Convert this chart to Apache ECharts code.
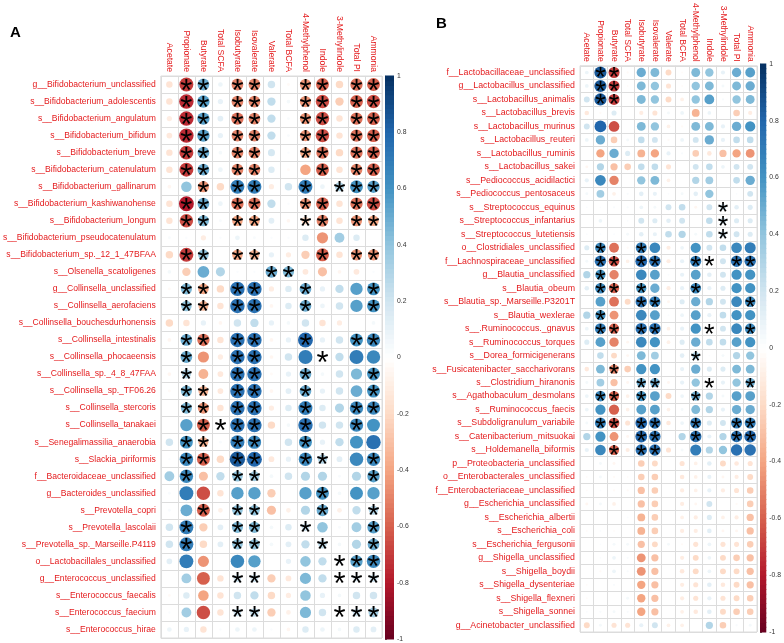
<!DOCTYPE html>
<html><head><meta charset="utf-8">
<script src="https://cdn.jsdelivr.net/npm/echarts@6/dist/echarts.min.js"></script>
<style>html,body{margin:0;padding:0;background:#fff}#c{width:784px;height:643px}</style>
</head><body><div id="c"></div>
<script>
// ---------- DATA ----------
const metabolites = ['Acetate','Propionate','Butyrate','Total SCFA','Isobutyrate','Isovalerate','Valerate','Total BCFA','4-Methylphenol','Indole','3-Methylindole','Total PI','Ammonia'];

const rowsA = ['g__Bifidobacterium_unclassified','s__Bifidobacterium_adolescentis','s__Bifidobacterium_angulatum','s__Bifidobacterium_bifidum','s__Bifidobacterium_breve','s__Bifidobacterium_catenulatum','s__Bifidobacterium_gallinarum','s__Bifidobacterium_kashiwanohense','s__Bifidobacterium_longum','s__Bifidobacterium_pseudocatenulatum','s__Bifidobacterium_sp._12_1_47BFAA','s__Olsenella_scatoligenes','g__Collinsella_unclassified','s__Collinsella_aerofaciens','s__Collinsella_bouchesdurhonensis','s__Collinsella_intestinalis','s__Collinsella_phocaeensis','s__Collinsella_sp._4_8_47FAA','s__Collinsella_sp._TF06.26','s__Collinsella_stercoris','s__Collinsella_tanakaei','s__Senegalimassilia_anaerobia','s__Slackia_piriformis','f__Bacteroidaceae_unclassified','g__Bacteroides_unclassified','s__Prevotella_copri','s__Prevotella_lascolaii','s__Prevotella_sp._Marseille.P4119','o__Lactobacillales_unclassified','g__Enterococcus_unclassified','s__Enterococcus_faecalis','s__Enterococcus_faecium','s__Enterococcus_hirae'];

const valuesA = [
[-0.15,-0.7,0.5,0.08,-0.5,-0.5,0.2,-0.03,-0.45,-0.6,-0.2,-0.55,-0.6],
[-0.15,-0.75,0.55,0.1,-0.5,-0.5,0.25,0.05,-0.45,-0.65,-0.25,-0.6,-0.65],
[-0.1,-0.75,0.55,0.12,-0.55,-0.5,0.25,0.03,-0.45,-0.65,-0.15,-0.55,-0.6],
[-0.12,-0.75,0.55,0.1,-0.5,-0.5,0.25,0.03,-0.45,-0.65,-0.15,-0.55,-0.6],
[-0.15,-0.7,0.5,0.05,-0.5,-0.5,0.18,0.02,-0.4,-0.55,-0.2,-0.55,-0.6],
[-0.15,-0.7,0.5,0.08,-0.5,-0.5,0.15,-0.03,-0.4,-0.6,-0.15,-0.5,-0.6],
[-0.05,0.4,-0.45,-0.2,0.7,0.7,-0.1,0.2,0.7,0.08,0.3,0.6,0.55],
[-0.15,-0.8,0.5,0.08,-0.55,-0.55,0.25,0.02,-0.45,-0.6,-0.15,-0.55,-0.65],
[-0.15,-0.65,0.45,0.03,-0.4,-0.4,0.12,-0.05,-0.2,-0.5,-0.15,-0.45,-0.4],
[0.03,0.02,-0.1,0.02,0.08,0.03,0.02,0.02,0.15,-0.45,0.35,0.15,0.0],
[-0.2,-0.7,0.4,0.0,-0.4,-0.35,0.1,-0.1,-0.25,-0.6,-0.15,-0.45,-0.45],
[0.05,-0.25,0.5,0.3,0.02,0.02,0.5,0.45,-0.12,-0.3,-0.05,-0.12,0.02],
[-0.03,0.45,-0.4,-0.2,0.75,0.75,-0.1,0.15,0.5,0.1,0.25,0.55,0.6],
[0.0,0.4,-0.35,-0.15,0.75,0.75,-0.05,0.15,0.5,0.08,0.2,0.55,0.6],
[-0.2,-0.15,0.1,-0.05,0.2,0.25,0.1,0.05,0.2,-0.15,-0.1,0.0,0.05],
[-0.05,0.5,-0.55,-0.15,0.75,0.75,-0.05,0.1,0.8,0.1,0.2,0.6,0.65],
[0.0,0.5,-0.45,-0.1,0.75,0.75,-0.05,0.2,0.7,0.03,0.25,0.7,0.65],
[-0.05,0.3,-0.35,-0.12,0.75,0.75,-0.03,0.1,0.5,0.05,0.2,0.45,0.6],
[-0.03,0.45,-0.35,-0.12,0.75,0.75,-0.05,0.12,0.5,0.1,0.2,0.5,0.6],
[0.0,0.45,-0.45,-0.15,0.75,0.75,-0.1,0.15,0.7,0.15,0.3,0.65,0.65],
[0.0,0.55,-0.6,0.0,0.75,0.75,-0.2,0.05,0.75,0.2,0.2,0.65,0.6],
[0.2,0.6,-0.35,0.03,0.7,0.65,0.0,0.2,0.6,0.1,0.25,0.6,0.75],
[0.02,0.65,-0.6,-0.2,0.85,0.8,-0.12,0.1,0.65,0.3,0.12,0.65,0.65],
[0.35,0.65,-0.3,0.25,0.4,0.35,0.05,0.2,0.3,0.3,0.03,0.3,0.55],
[0.03,0.7,-0.65,-0.15,0.55,0.55,-0.25,0.0,0.55,0.6,0.05,0.6,0.55],
[0.03,0.5,-0.6,-0.08,0.4,0.4,-0.3,-0.08,0.3,0.5,-0.08,0.25,0.3],
[0.2,0.7,-0.25,0.12,0.45,0.45,0.05,0.15,0.2,0.4,0.03,0.35,0.55],
[0.2,0.7,-0.2,0.12,0.4,0.4,0.05,0.12,0.25,0.25,0.05,0.3,0.5],
[0.12,0.7,-0.45,0.0,0.65,0.55,0.0,0.1,0.4,0.25,0.1,0.55,0.65],
[0.0,0.35,-0.6,-0.15,0.2,0.2,-0.25,-0.12,0.45,0.25,0.0,0.15,0.2],
[-0.03,0.15,-0.4,-0.15,0.2,0.25,-0.2,-0.1,0.4,0.1,0.05,0.2,0.2],
[0.02,0.35,-0.65,-0.15,0.2,0.25,-0.25,-0.08,0.45,0.2,0.0,0.2,0.35],
[0.08,0.1,-0.15,0.02,0.08,0.08,0.02,-0.05,0.15,0.08,0.05,0.15,0.12]
];

// 1 = significant (asterisk), one character per metabolite column
const sigA = ['0110110011011','0110110011011','0110110011011','0110110011011','0110110011011','0110110001011','0010110010111','0110110011011','0110110011011','0000000000000','0110110001011','0000001100000','0110110010001','0110110010001','0000000000000','0110110010011','0100110001000','0100110010001','0110110010001','0110110010011','0011110010010','0110110010000','0110110011001','0100110000001','0000000001000','0010110001001','0100110010001','0100110001001','0000000000111','0000110000111','0000000000000','0000110000111','0000000000000'];

const rowsB = ['f__Lactobacillaceae_unclassified','g__Lactobacillus_unclassified','s__Lactobacillus_animalis','s__Lactobacillus_brevis','s__Lactobacillus_murinus','s__Lactobacillus_reuteri','s__Lactobacillus_ruminis','s__Lactobacillus_sakei','s__Pediococcus_acidilactici','s__Pediococcus_pentosaceus','s__Streptococcus_equinus','s__Streptococcus_infantarius','s__Streptococcus_lutetiensis','o__Clostridiales_unclassified','f__Lachnospiraceae_unclassified','g__Blautia_unclassified','s__Blautia_obeum','s__Blautia_sp._Marseille.P3201T','s__Blautia_wexlerae','s__.Ruminococcus._gnavus','s__Ruminococcus_torques','s__Dorea_formicigenerans','s__Fusicatenibacter_saccharivorans','s__Clostridium_hiranonis','s__Agathobaculum_desmolans','s__Ruminococcus_faecis','s__Subdoligranulum_variabile','s__Catenibacterium_mitsuokai','s__Holdemanella_biformis','p__Proteobacteria_unclassified','o__Enterobacterales_unclassified','f__Enterobacteriaceae_unclassified','g__Escherichia_unclassified','s__Escherichia_albertii','s__Escherichia_coli','s__Escherichia_fergusonii','g__Shigella_unclassified','s__Shigella_boydii','s__Shigella_dysenteriae','s__Shigella_flexneri','s__Shigella_sonnei','g__Acinetobacter_unclassified'];

const valuesB = [
[0.08,0.85,-0.7,-0.03,0.5,0.45,-0.2,-0.02,0.45,0.4,0.1,0.5,0.55],
[0.08,0.85,-0.7,-0.02,0.45,0.4,-0.15,-0.02,0.4,0.45,0.05,0.45,0.5],
[0.2,0.85,-0.7,0.0,0.45,0.4,-0.2,-0.08,0.4,0.55,0.03,0.4,0.45],
[-0.12,-0.03,0.15,0.0,-0.1,-0.15,0.05,0.08,-0.35,0.08,0.0,-0.25,-0.1],
[0.2,0.8,-0.65,0.0,0.45,0.4,-0.08,-0.03,0.45,0.45,0.1,0.5,0.6],
[0.08,0.5,-0.25,0.05,0.25,0.2,-0.03,0.08,0.2,0.5,0.1,0.25,0.25],
[0.0,-0.4,0.5,0.15,-0.35,-0.4,0.1,0.03,-0.25,-0.12,-0.3,-0.4,-0.45],
[-0.05,0.3,-0.3,-0.25,0.25,0.25,-0.15,0.0,0.2,0.25,0.08,0.2,0.2],
[0.1,0.65,-0.5,0.0,0.4,0.45,-0.08,0.0,0.3,0.35,0.0,0.25,0.5],
[0.05,0.35,-0.08,0.03,0.12,0.1,0.02,0.05,0.12,0.4,0.0,0.02,0.2],
[0.02,0.02,0.03,0.03,0.08,0.05,0.2,0.25,-0.05,0.2,0.2,0.12,0.15],
[0.0,0.08,0.0,0.02,0.2,0.15,0.12,0.2,0.0,0.25,0.2,0.15,0.15],
[0.02,0.02,0.02,0.05,0.12,0.1,0.25,0.3,0.05,0.25,0.2,0.2,0.15],
[0.15,0.65,-0.55,-0.03,0.7,0.65,-0.1,0.08,0.6,0.2,0.25,0.65,0.7],
[0.05,0.75,-0.65,-0.08,0.8,0.75,-0.1,0.1,0.7,0.1,0.2,0.75,0.75],
[0.3,0.6,-0.5,0.0,0.65,0.55,0.02,0.1,0.55,0.12,0.2,0.6,0.6],
[0.12,0.65,-0.6,0.0,0.6,0.5,-0.1,0.1,0.65,0.1,0.15,0.6,0.6],
[0.0,0.55,-0.55,-0.2,0.75,0.7,-0.05,0.15,0.5,0.3,0.2,0.65,0.65],
[0.3,0.6,-0.45,0.0,0.65,0.55,0.02,0.08,0.55,0.1,0.25,0.6,0.6],
[0.08,0.7,-0.6,0.0,0.75,0.75,-0.08,0.1,0.6,0.08,0.2,0.65,0.65],
[0.15,0.55,-0.5,-0.05,0.65,0.6,-0.08,0.15,0.5,0.25,0.25,0.55,0.6],
[0.0,0.25,-0.2,-0.05,0.45,0.35,0.0,0.12,0.3,0.02,0.05,0.3,0.4],
[-0.12,0.45,-0.5,-0.25,0.6,0.6,0.0,0.1,0.5,0.15,0.15,0.45,0.45],
[0.05,0.35,-0.3,-0.05,0.5,0.5,-0.05,0.1,0.4,0.05,0.1,0.4,0.5],
[0.08,0.65,-0.6,-0.08,0.6,0.55,-0.2,0.08,0.5,0.3,0.05,0.55,0.55],
[0.08,0.6,-0.6,-0.08,0.55,0.55,-0.08,0.05,0.45,0.3,0.1,0.5,0.5],
[0.05,0.7,-0.65,-0.15,0.8,0.75,-0.12,0.08,0.7,0.15,0.2,0.7,0.7],
[0.3,0.6,-0.45,-0.05,0.8,0.75,0.0,0.3,0.75,0.1,0.3,0.75,0.8],
[0.1,0.65,-0.6,-0.1,0.75,0.75,-0.15,0.05,0.7,0.3,0.4,0.75,0.75],
[0.0,0.05,-0.05,0.0,-0.25,-0.2,0.0,-0.15,-0.08,0.12,-0.2,-0.12,-0.15],
[-0.02,0.05,-0.03,-0.02,-0.25,-0.25,0.0,-0.12,-0.08,0.1,-0.05,-0.1,-0.2],
[-0.02,0.02,-0.03,-0.03,-0.3,-0.25,0.0,-0.1,-0.08,0.1,-0.1,-0.15,-0.25],
[-0.05,0.05,-0.08,0.0,-0.3,-0.25,0.0,-0.1,-0.05,0.2,0.0,-0.03,-0.25],
[0.0,0.0,0.0,0.02,-0.35,-0.25,0.0,-0.08,-0.1,0.15,-0.08,-0.1,-0.3],
[-0.02,0.02,-0.02,0.0,-0.35,-0.25,0.0,-0.1,-0.1,0.12,-0.05,-0.05,-0.3],
[0.0,0.02,0.05,0.05,-0.3,-0.2,0.05,-0.03,-0.15,0.08,-0.15,-0.15,-0.25],
[0.0,0.02,0.08,0.03,-0.45,-0.3,0.0,-0.1,-0.2,0.08,-0.2,-0.25,-0.3],
[0.0,-0.03,0.08,0.03,-0.45,-0.3,0.0,-0.12,-0.2,0.08,-0.2,-0.2,-0.3],
[-0.02,0.0,0.03,0.0,-0.4,-0.3,0.0,-0.1,-0.15,0.12,-0.12,-0.2,-0.3],
[-0.02,0.0,0.0,0.05,-0.4,-0.3,0.0,-0.1,-0.15,0.1,-0.15,-0.2,-0.25],
[0.02,0.03,0.05,0.03,-0.4,-0.3,0.0,-0.08,-0.12,0.12,-0.2,-0.25,-0.25],
[-0.2,0.05,-0.15,-0.15,0.1,0.2,-0.08,-0.08,0.0,0.3,-0.25,0.03,0.05]
];

const sigB = ['0110000000000','0110000000000','0110000000000','0000000000000','0000000000000','0000000000000','0000000000000','0000000000000','0000000000000','0000000000000','0000000000100','0000000000100','0000000000100','0100100000000','0110110011011','0100000000000','0110100010000','0000110000001','0100000000000','0110110001001','0000000000000','0000000010000','0010000000000','0000110001001','0110100010000','0000000000000','0110110010011','0000110010011','0010110000000','0000000000000','0000000000000','0000000000000','0000000000000','0000000000000','0000000000000','0000000000000','0000000000000','0000000000000','0000000000000','0000000000000','0000000000000','0000000000000'];

const panelLetters = ['A','B'];
const colorbarMin = -1, colorbarMax = 1, colorbarStep = 0.2;

// ---------- STYLE ----------
const PALETTE = ['#67001F','#B2182B','#D6604D','#F4A582','#FDDBC7','#FFFFFF','#D1E5F0','#92C5DE','#4393C3','#2166AC','#053061'];
function hex2rgb(h){return [parseInt(h.slice(1,3),16),parseInt(h.slice(3,5),16),parseInt(h.slice(5,7),16)];}
const PAL_RGB = PALETTE.map(hex2rgb);
function corrColor(v){
  let t = (Math.max(-1,Math.min(1,v)) + 1) / 2 * (PALETTE.length - 1);
  let i = Math.min(PALETTE.length - 2, Math.floor(t)); let f = t - i;
  const a = PAL_RGB[i], b = PAL_RGB[i+1];
  return 'rgb(' + [0,1,2].map(k => Math.round(a[k] + (b[k]-a[k])*f)).join(',') + ')';
}
function fontAvailable(name){
  const c = document.createElement('canvas').getContext('2d');
  const s = 'abcdefghijklmnopqrstuvwxyz_ABC';
  c.font = '20px monospace'; const w1 = c.measureText(s).width;
  c.font = "20px '" + name + "', monospace"; const w2 = c.measureText(s).width;
  return w1 !== w2;
}
const NARROW = fontAvailable('Liberation Sans Narrow');
const LABEL_FONT = NARROW ? "'Liberation Sans Narrow'" : "'Liberation Sans', Arial, sans-serif";
const FS_ROW_A = NARROW ? 10.4 : 8.6;
const FS_ROW_B = NARROW ? 10.6 : 8.8;
const FS_COL = NARROW ? 10.4 : 8.6;
const FS_CB = NARROW ? 8 : 6.8;
const RED = '#e41a1c';
const GRIDC = '#dcdcdc';

const P = {
  A: {left:160, top:76, width:222, height:562, cb:{left:385, top:76, width:9, height:563}, star:31},
  B: {left:580, top:64, width:177, height:568, cb:{left:760, top:64, width:7, height:568}, star:27}
};

function cellData(vals, sig){
  const out = [];
  vals.forEach((row, r) => row.forEach((v, c) => out.push([c, r, v, sig[r][c] === '1' ? 1 : 0])));
  return out;
}
function renderCell(starSize){
  return function(params, api){
    const c = api.value(0), r = api.value(1), v = api.value(2), s = api.value(3);
    const p = api.coord([c, r]);
    const sz = api.size([1, 1]);
    const cell = Math.min(sz[0], sz[1]);
    const rad = 0.49 * cell * Math.sqrt(Math.abs(v));
    const children = [];
    if (rad > 0.2) children.push({type:'circle', shape:{cx:p[0], cy:p[1], r:rad}, style:{fill:corrColor(v)}});
    if (s) children.push({type:'text', style:{text:'*', x:p[0], y:p[1] + starSize*0.24, fill:'#000',
      fontSize:starSize, fontFamily:"'Liberation Sans', Arial", align:'center', verticalAlign:'middle'}});
    return {type:'group', children};
  };
}
const cbBins = [];
(function(){ const N = 120; for (let i = 0; i < N; i++){ cbBins.push([colorbarMin + (colorbarMax-colorbarMin)*i/N, colorbarMin + (colorbarMax-colorbarMin)*(i+1)/N]); } })();
function renderCB(params, api){
  const v0 = api.value(0), v1 = api.value(1);
  const p0 = api.coord([0, v0]), p1 = api.coord([1, v1]);
  return {type:'rect', shape:{x:p0[0], y:p1[1]-0.5, width:p1[0]-p0[0], height:p0[1]-p1[1]+1}, style:{fill:corrColor((v0+v1)/2)}};
}

const grids = [], xAxes = [], yAxes = [], series = [];
[['A', rowsA, valuesA, sigA, FS_ROW_A], ['B', rowsB, valuesB, sigB, FS_ROW_B]].forEach(([key, rows, vals, sig, fsRow]) => {
  const L = P[key];
  const gi = grids.length;
  grids.push({left:L.left, top:L.top, width:L.width, height:L.height, show:true, borderColor:GRIDC, borderWidth:1, containLabel:false});
  xAxes.push({gridIndex:gi, type:'category', data:metabolites, position:'top',
    axisLine:{show:false}, axisTick:{show:false},
    axisLabel:{interval:0, rotate:90, color:RED, fontSize:FS_COL, fontFamily:LABEL_FONT, margin:4},
    splitLine:{show:true, interval:0, lineStyle:{color:GRIDC, width:1}}});
  yAxes.push({gridIndex:gi, type:'category', data:rows, inverse:true,
    axisLine:{show:false}, axisTick:{show:false},
    axisLabel:{interval:0, color:RED, fontSize:fsRow, fontFamily:LABEL_FONT, margin:5},
    splitLine:{show:true, interval:0, lineStyle:{color:GRIDC, width:1}}});
  series.push({type:'custom', xAxisIndex:gi, yAxisIndex:gi, data:cellData(vals, sig), renderItem:renderCell(L.star), silent:true, clip:false});
  const ci = grids.length;
  grids.push({left:L.cb.left, top:L.cb.top, width:L.cb.width, height:L.cb.height, show:false});
  xAxes.push({gridIndex:ci, type:'value', min:0, max:1, show:false});
  yAxes.push({gridIndex:ci, type:'value', min:colorbarMin, max:colorbarMax, interval:colorbarStep, position:'right',
    axisLine:{show:true, lineStyle:{color:'#c8c8c8', width:1}}, axisTick:{show:true, length:2, lineStyle:{color:'#666'}},
    axisLabel:{fontSize:FS_CB, color:'#333', margin:3, fontFamily:LABEL_FONT,
      formatter: v => String(Math.round(v*10)/10)},
    splitLine:{show:false}});
  series.push({type:'custom', xAxisIndex:ci, yAxisIndex:ci, data:cbBins, renderItem:renderCB, silent:true});
});

const chart = echarts.init(document.getElementById('c'), null, {renderer:'canvas'});
chart.setOption({
  animation:false,
  backgroundColor:'#fff',
  title:[
    {text:panelLetters[0], left:5, top:20, textStyle:{fontSize:15, fontWeight:'bold', color:'#000', fontFamily:"'Liberation Sans', Arial"}},
    {text:panelLetters[1], left:431, top:11, textStyle:{fontSize:15, fontWeight:'bold', color:'#000', fontFamily:"'Liberation Sans', Arial"}}
  ],
  grid:grids, xAxis:xAxes, yAxis:yAxes, series:series
});
</script>
</body></html>
